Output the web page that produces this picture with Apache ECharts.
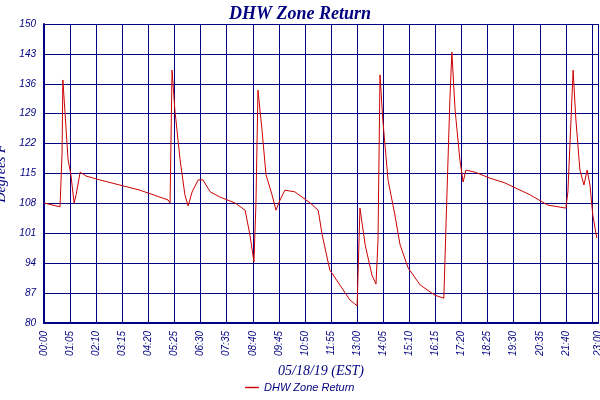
<!DOCTYPE html><html><head><meta charset="utf-8">
<script src="https://cdn.jsdelivr.net/npm/echarts@6/dist/echarts.min.js"></script>
<style>body{margin:0;background:#fff}#c{width:600px;height:400px}</style></head><body><div id="c"></div><script>
const minutes=[0,40,45,47,60,67,75,80,90,105,139,189,239,309,314,319,326,339,351,359,369,384,396,414,438,476,501,513,523,528,533,543,553,568,578,588,600,625,663,683,693,712,737,762,780,787,800,817,827,832,837,844,857,874,887,907,937,974,996,1001,1011,1016,1024,1036,1044,1051,1074,1111,1148,1211,1255,1300,1305,1318,1325,1335,1345,1353,1360,1367,1377];
const temps=[108.1,107.2,120,136.9,118.2,114.7,108.1,110,115.3,114.4,113.5,112.3,111.1,108.8,108.1,139.2,129.9,118.2,110,107.4,110.7,113.5,113.5,110.7,109.5,108.1,106.4,100.6,94.3,108.1,134.5,125.2,114.7,110,106.4,108.8,111.1,110.7,108.1,106.4,100.6,92.4,88.9,85.4,84,106.9,98.3,91.2,89.1,99.4,138.1,127.5,113.5,105.3,98.3,92.9,88.9,86.5,85.8,101.8,132.2,143.4,129.9,118.2,113,115.8,115.3,113.9,112.8,110,107.6,106.9,110.7,139.2,127.5,115.8,112.3,115.8,112.3,105.3,99.9];
const seriesName='DHW Zone Return';
const navy='#000080';
function fmt(v){const h=Math.floor(v/60),m=v%60;return String(h).padStart(2,'0')+':'+String(m).padStart(2,'0');}
const c=echarts.init(document.getElementById('c'));
c.setOption({animation:false,
title:{text:'DHW Zone Return',left:'center',top:0,textStyle:{fontFamily:'Liberation Serif',fontStyle:'italic',fontWeight:'bold',fontSize:18,color:navy}},
legend:{bottom:2,left:240,icon:'path://M0,0H20V2H0Z',itemWidth:14,itemHeight:2,textStyle:{fontFamily:'Liberation Sans',fontStyle:'italic',fontSize:11,color:navy}},
grid:{left:44,right:2,top:24,bottom:77,containLabel:false,outerBoundsMode:'none'},
xAxis:{type:'value',min:0,max:1380,interval:65,name:'05/18/19 (EST)',nameLocation:'middle',nameGap:38,
 nameTextStyle:{fontFamily:'Liberation Serif',fontStyle:'italic',fontSize:14,color:navy},
 axisLine:{lineStyle:{color:navy,width:2}},axisTick:{show:true,length:-5,lineStyle:{color:navy}},
 splitLine:{show:true,lineStyle:{color:navy,width:1}},
 axisLabel:{rotate:90,showMaxLabel:true,hideOverlap:false,formatter:fmt,fontFamily:'Liberation Sans',fontStyle:'italic',fontSize:10,color:navy}},
yAxis:{type:'value',min:80,max:150,interval:7,name:'Degrees F',nameLocation:'middle',nameGap:30,
 nameTextStyle:{fontFamily:'Liberation Serif',fontStyle:'italic',fontSize:14,color:navy},
 axisLine:{show:true,lineStyle:{color:navy,width:2}},axisTick:{show:false},
 splitLine:{show:true,lineStyle:{color:navy,width:1}},
 axisLabel:{fontFamily:'Liberation Sans',fontStyle:'italic',fontSize:10,color:navy}},
series:[{name:seriesName,type:'line',showSymbol:false,data:minutes.map((m,i)=>[m,temps[i]]),lineStyle:{color:'#cc0000',width:1},itemStyle:{color:'#cc0000'}}]});
</script></body></html>
